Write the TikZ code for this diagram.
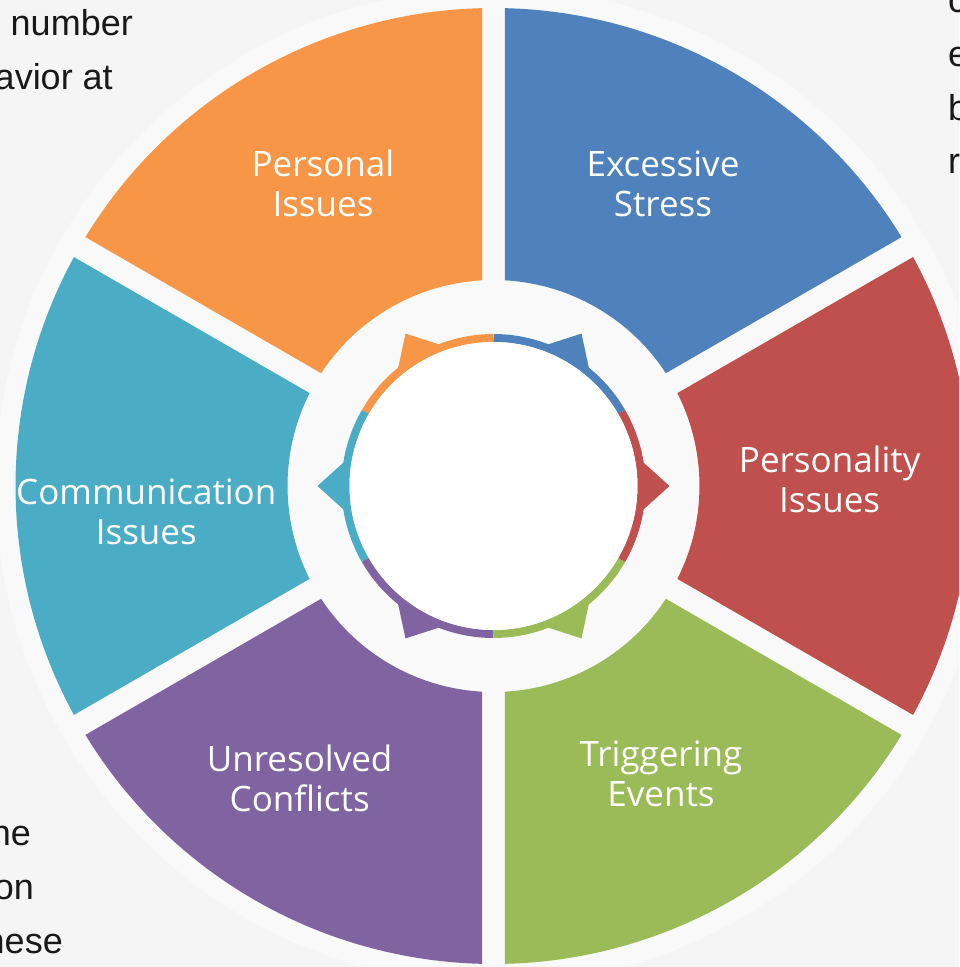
\documentclass[tikz,border=0pt]{standalone}
\usepackage{fontspec}
\setmainfont{Liberation Sans}
\newfontfamily\labelfont{Open Sans}
\usepackage{tikz}
\definecolor{pagebg}{HTML}{F5F5F5}
\definecolor{ringbg}{HTML}{F9F9F9}
\definecolor{segblue}{HTML}{4F81BD}
\definecolor{segorange}{HTML}{F79646}
\definecolor{segcyan}{HTML}{4BACC6}
\definecolor{segpurple}{HTML}{8064A2}
\definecolor{seggreen}{HTML}{9BBB59}
\definecolor{segred}{HTML}{C0504D}
\tikzstyle{lbl} = [text=white, align=center, inner sep=0pt, font=\labelfont\fontsize{35}{40}\selectfont]
\tikzstyle{side} = [text=black!90, inner sep=0pt, font=\fontsize{36}{54}\selectfont]
\tikzstyle{band} = [line width=8pt]

\begin{document}
\begin{tikzpicture}[x=1pt,y=1pt]
	\useasboundingbox (-493.5,-481) rectangle (465.5,486);
	\clip (-493.5,-481) rectangle (465.5,486);
	\fill[pagebg] (-493.5,-481) rectangle (465.5,486);
	\coordinate (ctr) at (0,0);
	\fill[ringbg] (ctr) circle (498pt);
	% outer segments
	\fill[segblue] (33.2:206pt) -- (31.379:478pt) arc[start angle=31.379, end angle=88.621, radius=478pt] -- (86.8:206pt) arc[start angle=86.8, end angle=33.2, radius=206pt] -- cycle;
	\fill[segorange] (93.2:206pt) -- (91.379:478pt) arc[start angle=91.379, end angle=148.621, radius=478pt] -- (146.8:206pt) arc[start angle=146.8, end angle=93.2, radius=206pt] -- cycle;
	\fill[segcyan] (153.2:206pt) -- (151.379:478pt) arc[start angle=151.379, end angle=208.621, radius=478pt] -- (206.8:206pt) arc[start angle=206.8, end angle=153.2, radius=206pt] -- cycle;
	\fill[segpurple] (213.2:206pt) -- (211.379:478pt) arc[start angle=211.379, end angle=268.621, radius=478pt] -- (266.8:206pt) arc[start angle=266.8, end angle=213.2, radius=206pt] -- cycle;
	\fill[seggreen] (273.2:206pt) -- (271.379:478pt) arc[start angle=271.379, end angle=328.621, radius=478pt] -- (326.8:206pt) arc[start angle=326.8, end angle=273.2, radius=206pt] -- cycle;
	\fill[segred] (-26.8:206pt) -- (-28.621:478pt) arc[start angle=-28.621, end angle=28.621, radius=478pt] -- (26.8:206pt) arc[start angle=26.8, end angle=-26.8, radius=206pt] -- cycle;
	% inner ring
	\draw[band, segblue] (30:148pt) arc[start angle=30, end angle=90, radius=148pt];
	\draw[band, segorange] (90:148pt) arc[start angle=90, end angle=150, radius=148pt];
	\draw[band, segcyan] (150:148pt) arc[start angle=150, end angle=210, radius=148pt];
	\draw[band, segpurple] (210:148pt) arc[start angle=210, end angle=270, radius=148pt];
	\draw[band, seggreen] (270:148pt) arc[start angle=270, end angle=330, radius=148pt];
	\draw[band, segred] (330:148pt) arc[start angle=330, end angle=390, radius=148pt];
	\fill[segblue] (69.3:151pt) -- (60:176pt) -- (50.7:151pt) -- cycle;
	\fill[segorange] (129.3:151pt) -- (120:176pt) -- (110.7:151pt) -- cycle;
	\fill[segcyan] (189.3:151pt) -- (180:176pt) -- (170.7:151pt) -- cycle;
	\fill[segpurple] (249.3:151pt) -- (240:176pt) -- (230.7:151pt) -- cycle;
	\fill[seggreen] (309.3:151pt) -- (300:176pt) -- (290.7:151pt) -- cycle;
	\fill[segred] (9.3:151pt) -- (0:176pt) -- (-9.3:151pt) -- cycle;
	\fill[white] (ctr) circle (144pt);
	% labels
	\node[lbl] (stress) at (169.5,297.3) {Excessive\strut\\Stress\strut};
	\node[lbl] (personal) at (-170.5,297.3) {Personal\strut\\Issues\strut};
	\node[lbl] (personality) at (336.2,1.5) {Personality\strut\\Issues\strut};
	\node[lbl] (communication) at (-347.2,-30) {Communication\strut\\Issues\strut};
	\node[lbl] (triggering) at (167.5,-292.8) {Triggering\strut\\Events\strut};
	\node[lbl] (unresolved) at (-193.8,-297.7) {Unresolved\strut\\Conflicts\strut};
	% cut-off slide text
	\node[side, anchor=base east] (tl1) at (-360.5,450) {number};
	\node[side, anchor=base east] (tl2) at (-380.5,396) {avior at};
	\node[side, anchor=base west] (tr1) at (454.5,473) {c};
	\node[side, anchor=base west] (tr2) at (454.5,419) {e};
	\node[side, anchor=base west] (tr3) at (454.5,365) {b};
	\node[side, anchor=base west] (tr4) at (454.5,312) {r};
	\node[side, anchor=base east] (bl1) at (-462.5,-359) {he};
	\node[side, anchor=base east] (bl2) at (-459.5,-413) {on};
	\node[side, anchor=base east] (bl3) at (-430.5,-467) {hese};
\end{tikzpicture}
\end{document}
